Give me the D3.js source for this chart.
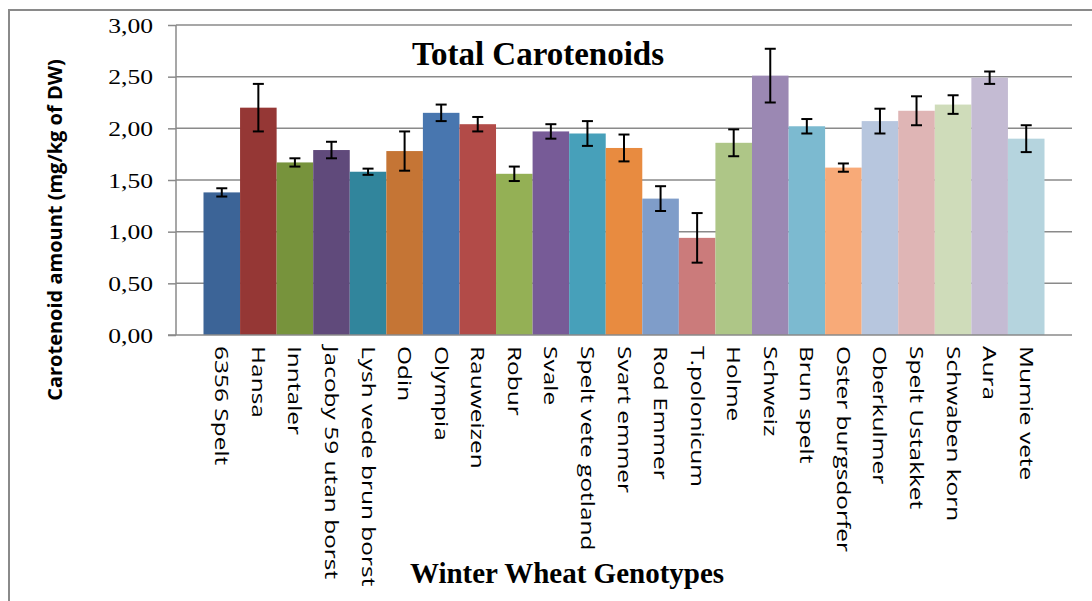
<!DOCTYPE html>
<html>
<head>
<meta charset="utf-8">
<script src="https://cdn.jsdelivr.net/npm/d3@7"></script>
<style>
  body { margin: 0; background: #fff; }
  svg { display: block; }
</style>
</head>
<body>
<svg id="chart"></svg>
<script>
// Chart data
var genotypes = ["6356 Spelt", "Hansa", "Inntaler", "Jacoby 59 utan borst", "Lysh vede brun borst",
    "Odin", "Olympia", "Rauweizen", "Robur", "Svale", "Spelt vete gotland", "Svart emmer",
    "Rod Emmer", "T.polonicum", "Holme", "Schweiz", "Brun spelt", "Oster burgsdorfer",
    "Oberkulmer", "Spelt Ustakket", "Schwaben korn", "Aura", "Mumie vete"];
var carotenoids = [1.38, 2.20, 1.67, 1.79, 1.58, 1.78, 2.15, 2.04, 1.56, 1.97, 1.95, 1.81,
    1.32, 0.94, 1.86, 2.51, 2.02, 1.62, 2.07, 2.17, 2.23, 2.49, 1.90];
var errors = [0.04, 0.23, 0.04, 0.08, 0.03, 0.19, 0.08, 0.07, 0.07, 0.07, 0.12, 0.13,
    0.12, 0.24, 0.13, 0.26, 0.07, 0.04, 0.12, 0.14, 0.09, 0.06, 0.13];
var barColors = ["#3c6497", "#953735", "#77933c", "#604a7b", "#31859c", "#c57535",
    "#4876af", "#b24b48", "#94b055", "#775b97", "#47a0ba", "#e88b40",
    "#7f9dc9", "#cb7b7b", "#aec687", "#9b88b3", "#7cbad0", "#f8aa78",
    "#b7c6de", "#dfb5b5", "#cfdcba", "#c4bbd3", "#b5d4de"];
var yTicks = [0, 0.5, 1, 1.5, 2, 2.5, 3];

var w = 1092;
var h = 601;
var plot = { left: 176, right: 1072, top: 25, bottom: 335 };
var gridColor = "#8a8a8a";
var serif = "'Liberation Serif', 'Times New Roman', serif";

var svg = d3.select("#chart").attr("width", w).attr("height", h);

// outer chart border (left and top edges visible)
svg.append("path")
    .attr("d", "M9,601V10H1092")
    .attr("fill", "none")
    .attr("stroke", gridColor)
    .attr("stroke-width", 2);

// Scales
var x = d3.scaleBand()
    .domain(genotypes)
    .range([plot.left, plot.right])
    .paddingInner(0)
    .paddingOuter(0.752);

var y = d3.scaleLinear()
    .domain([0, 3])
    .range([plot.bottom, plot.top]);

// Gridlines
svg.append("g").selectAll("line")
    .data(yTicks.filter(function(d) { return d > 0; }))
    .enter()
    .append("line")
    .attr("x1", plot.left).attr("x2", plot.right)
    .attr("y1", function(d) { return y(d); })
    .attr("y2", function(d) { return y(d); })
    .attr("stroke", gridColor)
    .attr("stroke-width", 1.5);

// Bars
svg.append("g").selectAll("rect")
    .data(genotypes)
    .enter()
    .append("rect")
    .attr("x", function(d) { return x(d); })
    .attr("width", x.bandwidth())
    .attr("y", function(d, i) { return y(carotenoids[i]); })
    .attr("height", function(d, i) { return plot.bottom - y(carotenoids[i]); })
    .attr("fill", function(d, i) { return barColors[i]; });

// Error bars
var err = svg.append("g")
    .attr("stroke", "#000")
    .attr("stroke-width", 2)
    .selectAll("g")
    .data(genotypes)
    .enter()
    .append("g")
    .attr("transform", function(d) { return "translate(" + (x(d) + x.bandwidth() / 2) + ",0)"; });

err.append("line")
    .attr("y1", function(d, i) { return y(carotenoids[i] + errors[i]); })
    .attr("y2", function(d, i) { return y(carotenoids[i] - errors[i]); });
err.append("line")
    .attr("x1", -5.5).attr("x2", 5.5)
    .attr("y1", function(d, i) { return y(carotenoids[i] + errors[i]); })
    .attr("y2", function(d, i) { return y(carotenoids[i] + errors[i]); });
err.append("line")
    .attr("x1", -5.5).attr("x2", 5.5)
    .attr("y1", function(d, i) { return y(carotenoids[i] - errors[i]); })
    .attr("y2", function(d, i) { return y(carotenoids[i] - errors[i]); });

// Y axis
var yAxis = svg.append("g")
    .attr("transform", "translate(" + plot.left + ",0)")
    .call(d3.axisLeft(y)
        .tickValues(yTicks)
        .tickSize(8)
        .tickPadding(0)
        .tickFormat(function(d) { return d3.format(".2f")(d).replace(".", ","); }));

yAxis.attr("font-family", null).attr("font-size", null);
yAxis.select(".domain")
    .attr("d", "M0," + plot.top + "V" + plot.bottom)
    .attr("stroke", gridColor)
    .attr("stroke-width", 1.5);
yAxis.selectAll(".tick line").attr("stroke", gridColor).attr("stroke-width", 1.5);
// wide serif tick labels, right edge at x = 153
yAxis.selectAll(".tick text")
    .attr("x", null)
    .attr("dy", null)
    .attr("transform", "translate(-23,7) scale(1.28,1)")
    .style("font-family", serif)
    .style("font-size", "20px")
    .attr("fill", "#000");

// X axis line
svg.append("line")
    .attr("x1", plot.left - 8).attr("x2", plot.right)
    .attr("y1", plot.bottom).attr("y2", plot.bottom)
    .attr("stroke", gridColor)
    .attr("stroke-width", 1.5);

// Category labels (rotated)
svg.append("g").selectAll("text")
    .data(genotypes)
    .enter()
    .append("text")
    .attr("transform", function(d) {
        return "translate(" + (x(d) + x.bandwidth() / 2) + ",346) rotate(90) scale(1.36,1)";
    })
    .attr("dy", "0.36em")
    .style("font-family", "'Open Sans', sans-serif")
    .style("font-size", "18px")
    .attr("fill", "#000")
    .text(function(d) { return d; });

// Titles
svg.append("text")
    .attr("x", 538).attr("y", 65)
    .attr("text-anchor", "middle")
    .style("font-family", serif)
    .style("font-weight", "bold")
    .style("font-size", "33px")
    .text("Total Carotenoids");

svg.append("text")
    .attr("x", 567).attr("y", 583)
    .attr("text-anchor", "middle")
    .style("font-family", serif)
    .style("font-weight", "bold")
    .style("font-size", "29px")
    .text("Winter Wheat Genotypes");

svg.append("text")
    .attr("transform", "translate(62,230) rotate(-90)")
    .attr("text-anchor", "middle")
    .style("font-family", "'Open Sans', sans-serif")
    .style("font-weight", "bold")
    .style("font-size", "20px")
    .text("Carotenoid amount (mg/kg of DW)");
</script>
</body>
</html>
